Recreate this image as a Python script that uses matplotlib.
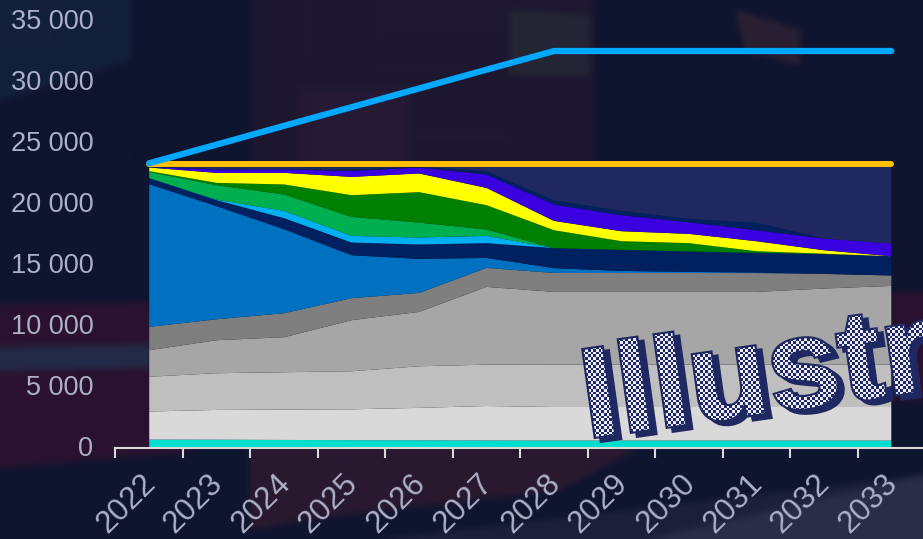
import numpy as np
import matplotlib
matplotlib.use("Agg")
import matplotlib.pyplot as plt
from matplotlib.colors import ListedColormap, to_rgb
from matplotlib.font_manager import FontProperties
from matplotlib.patches import PathPatch
from matplotlib.path import Path
from matplotlib.textpath import TextPath
from matplotlib.transforms import Affine2D, ScaledTranslation

plt.rcParams['font.family'] = ['Liberation Sans', 'DejaVu Sans']

WIDTH, HEIGHT = 923, 539

years = ['2022', '2023', '2024', '2025', '2026', '2027', '2028', '2029', '2030', '2031', '2032', '2033']
y_ticks = [0, 5000, 10000, 15000, 20000, 25000, 30000, 35000]
y_labels = ['0', '5 000', '10 000', '15 000', '20 000', '25 000', '30 000', '35 000']

# top edge of every stacked band (bottom band first)
teal = [650, 640, 620, 600, 590, 580, 570, 570, 570, 570, 570, 570]
light_grey = [2950, 3080, 3110, 3130, 3250, 3400, 3320, 3320, 3320, 3320, 3320, 3320]
silver = [5800, 6090, 6170, 6250, 6660, 6790, 6800, 6800, 6800, 6800, 6800, 6800]
mid_grey = [7975, 8795, 9040, 10435, 11115, 13165, 12755, 12755, 12755, 12755, 13030, 13245]
dark_grey = [9885, 10515, 11010, 12240, 12670, 14720, 14310, 14300, 14300, 14300, 14230, 14100]
blue = [21580, 19780, 17890, 15760, 15460, 15540, 14700, 14475, 14395, 14345, 14230, 14100]
navy = [22075, 20270, 18795, 16800, 16640, 16750, 16340, 16200, 16070, 15950, 15845, 15680]
sky = [22075, 20310, 19395, 17345, 17215, 17345, 16340, 16200, 16070, 15950, 15845, 15680]
green = [22590, 21500, 20740, 18900, 18440, 17870, 16340, 16200, 16070, 15950, 15845, 15680]
dark_green = [22650, 21690, 21560, 20680, 20930, 19860, 17810, 16910, 16750, 16090, 15885, 15680]
yellow = [22950, 22510, 22510, 22180, 22460, 21280, 18575, 17730, 17510, 16910, 16170, 15680]
indigo = [22975, 22790, 22790, 22670, 22950, 22380, 19920, 19040, 18470, 17810, 17130, 16720]
navy_top = [23020, 22810, 22810, 22770, 23020, 22650, 20250, 19395, 18740, 18410, 17130, 16720]
remainder = [23200, 23200, 23200, 23200, 23200, 23200, 23200, 23200, 23200, 23200, 23200, 23200]

gold_line = [23200, 23200, 23200, 23200, 23200, 23200, 23200, 23200, 23200, 23200, 23200, 23200]
blue_line = [23300, 24830, 26370, 27900, 29430, 30970, 32500, 32500, 32500, 32500, 32500, 32500]

tops = [teal, light_grey, silver, mid_grey, dark_grey, blue, navy, sky, green,
        dark_green, yellow, indigo, navy_top, remainder]
colors = ['#00dfce', '#d9d9d9', '#bfbfbf', '#a6a6a6', '#7f7f7f', '#0070c0', '#002060', '#00b0f0',
          '#00b050', '#008000', '#ffff00', '#3a00e0', '#002060', '#1f2860']

# rough shapes of the blurred photo behind the chart, in pixels
photo_shapes = [
    ([(0, 0), (130, 0), (130, 60), (0, 100)], '#13203c'),
    ([(253, 0), (594, 0), (594, 170), (253, 170)], '#1d1830'),
    ([(300, 90), (410, 90), (410, 170), (300, 170)], '#261a33'),
    ([(510, 10), (590, 15), (590, 75), (510, 75)], '#242535'),
    ([(735, 10), (800, 30), (800, 65), (745, 50)], '#2a2033'),
    ([(0, 305), (150, 302), (200, 447), (183, 452), (0, 468)], '#2a1230'),
    ([(0, 347), (150, 344), (150, 368), (0, 371)], '#232a45'),
    ([(250, 447), (640, 447), (560, 490), (300, 520), (250, 530)], '#2a1a30'),
    ([(892, 292), (WIDTH, 292), (WIDTH, 400), (892, 400)], '#2a1230'),
    ([(WIDTH, 475), (WIDTH, HEIGHT), (380, HEIGHT)], '#1c2038'),
    ([(WIDTH, 475), (WIDTH, HEIGHT), (650, HEIGHT)], '#2a2d48'),
]


def box_blur(img, r):
    for axis in [0, 1]:
        pad = [(0, 0)] * 3
        pad[axis] = (r + 1, r)
        c = np.cumsum(np.pad(img, pad, mode='edge'), axis=axis)
        hi = np.take(c, range(2 * r + 1, c.shape[axis]), axis=axis)
        lo = np.take(c, range(0, c.shape[axis] - 2 * r - 1), axis=axis)
        img = (hi - lo) / (2 * r + 1)
    return img


xx, yy = np.meshgrid(np.arange(WIDTH), np.arange(HEIGHT))
grid = np.column_stack([xx.ravel() + 0.5, yy.ravel() + 0.5])
photo = np.ones((HEIGHT, WIDTH, 3)) * to_rgb('#10152f')
for pts, c in photo_shapes:
    mask = Path(pts).contains_points(grid).reshape(HEIGHT, WIDTH)
    photo[mask] = to_rgb(c)
photo = box_blur(box_blur(photo, 3), 3)

fig = plt.figure(figsize=(WIDTH / 100, HEIGHT / 100), dpi=100)

bg = fig.add_axes([0, 0, 1, 1], zorder=-1)
bg.imshow(photo, aspect='auto', interpolation='nearest')
bg.axis('off')

ax = fig.add_axes([115.5 / WIDTH, (HEIGHT - 447.5) / HEIGHT, (WIDTH - 115.5) / WIDTH, 447.5 / HEIGHT])
ax.patch.set_alpha(0)

x = np.arange(len(years))
bands = np.diff(np.vstack([np.zeros(len(years)), np.array(tops)]), axis=0)
ax.stackplot(x, bands, colors=colors, linewidth=0)
ax.plot(x, gold_line, color='#ffc000', lw=4.3, solid_capstyle='round')
ax.plot(x, blue_line, color='#00a8ff', lw=4.5, solid_capstyle='round', solid_joinstyle='round')

ax.set_xlim(-0.5, 11.47)
ax.set_ylim(0, 447.5 / 12.2 * 1000)
for side in ['top', 'right', 'left']:
    ax.spines[side].set_visible(False)
ax.spines['bottom'].set_color('#d9d9d9')
ax.spines['bottom'].set_linewidth(1.5)

ax.set_yticks(y_ticks, y_labels)
ax.tick_params(axis='y', length=0, pad=16, labelsize=19.5, labelcolor='#adb0c6')
for label in ax.get_yticklabels():
    label.set_transform(label.get_transform() + ScaledTranslation(0, 1.2 / 100, fig.dpi_scale_trans))
ax.set_xticks(x - 0.5, [''] * len(years))
ax.tick_params(axis='x', which='major', length=7, width=1.5, color='#d9d9d9')
ax.set_xticks(x, years, minor=True)
ax.tick_params(axis='x', which='minor', length=0, pad=15, labelsize=22.5, labelcolor='#adb0c6')
for label in ax.get_xticklabels(minor=True):
    label.set_rotation(45)
    label.set_ha('right')
    label.set_va('top')
    label.set_rotation_mode('anchor')
    label.set_transform(label.get_transform() + ScaledTranslation(-9 / 100, 0, fig.dpi_scale_trans))

# watermark across the corner, cut off by the edge of the picture
over = fig.add_axes([0, 0, 1, 1], zorder=5)
font = FontProperties(family='Liberation Sans', weight='bold')
word = TextPath((0, 0), 'Illustration', size=125, prop=font)
placed = Affine2D().scale(1.04, 1.02).rotate_deg(8).translate(587, HEIGHT - 438)
word_path = Path(placed.transform(word.vertices), word.codes)
shadow_path = Path(word_path.vertices + np.array([6, -4]), word_path.codes)
over.add_patch(PathPatch(shadow_path, fc='#1f2860', ec='#1f2860', lw=3))
over.add_patch(PathPatch(word_path, fc='#1f2860', ec='#1f2860', lw=3))
inner = PathPatch(word_path, fc='none', ec='none')
over.add_patch(inner)
checks = ((xx / 2.67).astype(int) + (yy / 2.67).astype(int)) % 2
im = over.imshow(checks, extent=(0, WIDTH, 0, HEIGHT), origin='lower', interpolation='nearest',
                 cmap=ListedColormap(['#1f2860', '#eceeff']), aspect='auto', zorder=3)
im.set_clip_path(inner)
over.set_xlim(0, WIDTH)
over.set_ylim(0, HEIGHT)
over.axis('off')

fig.savefig('out.png', dpi=100)
